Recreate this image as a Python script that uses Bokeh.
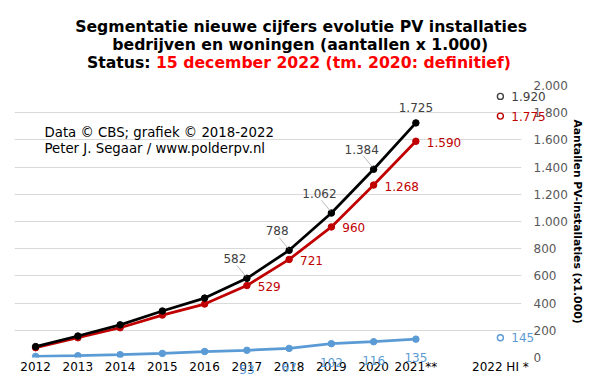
from bokeh.plotting import figure
from bokeh.models import ColumnDataSource, Range1d, FixedTicker, Label
from bokeh.core.properties import value
from bokeh.embed import file_html
from bokeh.resources import INLINE

# ---------------- data ----------------
years = ["2012", "2013", "2014", "2015", "2016", "2017", "2018", "2019", "2020", "2021**"]
hi_category = "2022 HI *"
totaal = [80, 158, 240, 342, 437, 582, 788, 1062, 1384, 1725]
woningen = [72, 145, 219, 312, 393, 529, 721, 960, 1268, 1590]
bedrijven = [8, 13, 21, 30, 44, 53, 67, 102, 116, 135]
totaal_hi = 1920
woningen_hi = 1775
bedrijven_hi = 145
y_ticks = [0, 200, 400, 600, 800, 1000, 1200, 1400, 1600, 1800, 2000]
y_tick_labels = ["0", "200", "400", "600", "800", "1.000", "1.200", "1.400", "1.600", "1.800", "2.000"]
title_lines = ["Segmentatie nieuwe cijfers evolutie PV installaties",
               "bedrijven en woningen (aantallen x 1.000)"]
status_label = "Status:"
status_text = "15 december 2022 (tm. 2020: definitief)"
credit_lines = ["Data \u00a9 CBS; grafiek \u00a9 2018-2022",
                "Peter J. Segaar / www.polderpv.nl"]
y_title = "Aantallen PV-installaties (x1.000)"
first_labelled = 5  # labels shown from 2017 on

# ---------------- style / layout ----------------
BLACK = "#000000"
RED = "#c00000"
BLUE = "#5b9bd5"
LBL_BLACK = "#404040"
FONT = "DejaVu Sans"
W, H = 586, 376
FL, FR, FT, FB = 14, 523, 85, 360      # frame edges in px


def fmt(v):
    return f"{v:,}".replace(",", ".")


xs = list(range(len(years)))
x_hi = len(years) + 1
n_slots = len(years) + 2
y0, y1 = y_ticks[0], y_ticks[-1]
PX_X = (FR - FL) / n_slots
UNIT_Y = (y1 - y0) / (FB - FT)


def ddx(px):
    return px / PX_X


def ddy(py):
    return py * UNIT_Y


def data_x(px):
    return -0.5 + (px - FL) / PX_X


def data_y(py):
    return y0 + (FB - py) * UNIT_Y


p = figure(width=W, height=H, output_backend="svg", toolbar_location=None,
           x_range=Range1d(-0.5, n_slots - 0.5), y_range=Range1d(y0, y1),
           y_axis_location="right",
           min_border_left=FL, min_border_right=W - FR, min_border_top=FT, min_border_bottom=H - FB)
p.outline_line_color = None
p.background_fill_color = "white"
p.border_fill_color = "white"

# axes
p.xaxis.ticker = FixedTicker(ticks=xs + [x_hi])
overrides = {i: years[i] for i in xs}
overrides[x_hi] = hi_category
p.xaxis.major_label_overrides = overrides
p.xaxis.axis_line_color = None
p.xaxis.major_tick_line_color = None
p.xaxis.minor_tick_line_color = None
p.xaxis.major_tick_out = 0
p.xaxis.major_tick_in = 0
p.xaxis.major_label_text_font = FONT
p.xaxis.major_label_text_font_size = "12px"
p.xaxis.major_label_text_color = "#000000"
p.xaxis.major_label_standoff = 2

p.yaxis.ticker = FixedTicker(ticks=y_ticks)
p.yaxis.major_label_overrides = {t: l for t, l in zip(y_ticks, y_tick_labels)}
p.yaxis.axis_line_color = None
p.yaxis.major_tick_line_color = None
p.yaxis.minor_tick_line_color = None
p.yaxis.major_tick_out = 0
p.yaxis.major_tick_in = 0
p.yaxis.major_label_text_font = FONT
p.yaxis.major_label_text_font_size = "12px"
p.yaxis.major_label_text_color = "#595959"
p.yaxis.major_label_standoff = 12
p.yaxis.axis_label = y_title
p.yaxis.axis_label_text_font = FONT
p.yaxis.axis_label_text_font_size = "10.8px"
p.yaxis.axis_label_text_font_style = "bold"
p.yaxis.axis_label_text_color = "#000000"
p.yaxis.axis_label_standoff = 0

p.xgrid.visible = False
p.ygrid.ticker = FixedTicker(ticks=y_ticks)
p.ygrid.grid_line_color = "#d9d9d9"
p.ygrid.grid_line_width = 1

# ---------------- series ----------------
src = ColumnDataSource(dict(x=xs, tot=totaal, won=woningen, bed=bedrijven))
LW = 2.75
MS = 6.5
p.line("x", "bed", source=src, line_color=BLUE, line_width=LW)
p.scatter("x", "bed", source=src, size=MS, fill_color=BLUE, line_color=BLUE)
p.line("x", "won", source=src, line_color=RED, line_width=LW)
p.scatter("x", "won", source=src, size=MS, fill_color=RED, line_color=RED)
p.line("x", "tot", source=src, line_color=BLACK, line_width=LW)
p.scatter("x", "tot", source=src, size=MS, fill_color=BLACK, line_color=BLACK)

# 2022 HI hollow markers
hi_vals = [totaal_hi, woningen_hi, bedrijven_hi]
hi_src = ColumnDataSource(dict(x=[x_hi] * 3, y=hi_vals,
                               c=[LBL_BLACK, RED, BLUE],
                               lx=[x_hi + ddx(11)] * 3,
                               ly=hi_vals,
                               t=[fmt(v) for v in hi_vals]))
p.scatter("x", "y", source=hi_src, size=6, fill_color="white", line_color="c", line_width=1.4)


def txt(source, color, align, size="12px", style="normal", baseline="middle"):
    return p.text("lx", "ly", text="t", source=source, text_color=color,
                  text_font=value(FONT), text_font_size=value(size), text_font_style=style,
                  text_align=align, text_baseline=baseline, level="overlay")


txt(hi_src, "c", "left")

# ---------------- data labels ----------------
li = list(range(first_labelled, len(years)))
lead_idx = li[:-1]
lead_src = ColumnDataSource(dict(
    lx=[xs[i] - ddx(12) for i in lead_idx], ly=[totaal[i] + ddy(20) for i in lead_idx],
    t=[fmt(totaal[i]) for i in lead_idx],
    x0=[xs[i] - ddx(10) for i in lead_idx], y0=[totaal[i] + ddy(13) for i in lead_idx],
    x1=[xs[i] - ddx(1) for i in lead_idx], y1=[totaal[i] + ddy(2) for i in lead_idx]))
p.segment("x0", "y0", "x1", "y1", source=lead_src, line_color="#a6a6a6", line_width=0.8)
txt(lead_src, LBL_BLACK, "center")

last = li[-1]
last_src = ColumnDataSource(dict(lx=[xs[last]], ly=[totaal[last] + ddy(16)], t=[fmt(totaal[last])]))
txt(last_src, LBL_BLACK, "center")

red_src = ColumnDataSource(dict(lx=[xs[i] + ddx(11) for i in li], ly=[woningen[i] - ddy(1) for i in li],
                                t=[fmt(woningen[i]) for i in li]))
txt(red_src, RED, "left")

blue_src = ColumnDataSource(dict(lx=[xs[i] for i in li], ly=[bedrijven[i] - ddy(19) for i in li],
                                 t=[fmt(bedrijven[i]) for i in li]))
txt(blue_src, BLUE, "center")

# ---------------- titles ----------------
TFS = "15.7px"
title_src = ColumnDataSource(dict(lx=[data_x(301.7), data_x(300.8)],
                                  ly=[data_y(25.5), data_y(43.5)], t=title_lines))
txt(title_src, "#000000", "center", size=TFS, style="bold", baseline="alphabetic")
status_src = ColumnDataSource(dict(lx=[data_x(86.7)], ly=[data_y(62)], t=[status_label]))
txt(status_src, "#000000", "left", size=TFS, style="bold", baseline="alphabetic")
status2_src = ColumnDataSource(dict(lx=[data_x(156)], ly=[data_y(62)], t=[status_text]))
txt(status2_src, "#ff0000", "left", size=TFS, style="bold", baseline="alphabetic")

# credits (inside the plot area)
p.add_layout(Label(x=44 - FL, y=FB - 134.5, x_units="screen", y_units="screen", text=credit_lines[0],
                   text_font=FONT, text_font_size="13.3px", text_align="left",
                   text_baseline="alphabetic", text_color="#000000"))
p.add_layout(Label(x=44 - FL, y=FB - 150.8, x_units="screen", y_units="screen", text=credit_lines[1],
                   text_font=FONT, text_font_size="13.3px", text_align="left",
                   text_baseline="alphabetic", text_color="#000000"))

open("out.html", "w").write(file_html(p, INLINE))
